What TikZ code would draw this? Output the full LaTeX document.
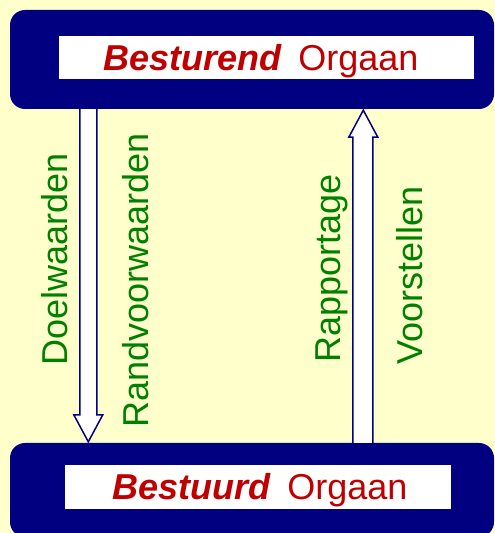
\documentclass[tikz,border=0pt]{standalone}
\usepackage{fontspec}
\setmainfont{Liberation Sans}
\usetikzlibrary{calc}
\definecolor{bg}{HTML}{FFFFCC}
\definecolor{navy}{HTML}{000080}
\definecolor{darkred}{HTML}{C00000}
\definecolor{labelgreen}{HTML}{008000}
\tikzset{
  organ/.style={fill=navy, draw=none, rounded corners=15pt, minimum width=484pt, inner sep=0pt},
  plate/.style={fill=white, draw=none, inner sep=0pt},
  title/.style={font=\fontsize{36}{43}\selectfont, text=darkred, anchor=base, inner sep=0pt},
  flow/.style={font=\fontsize{36}{43}\selectfont, text=labelgreen, rotate=90, anchor=base west, inner sep=0pt},
  arrowshape/.style={fill=white, draw=navy, line width=1.5pt, line join=miter},
}
\begin{document}
\begin{tikzpicture}[x=1pt,y=1pt]
\useasboundingbox (0,0) rectangle (495,533);
\clip (0,0) rectangle (495,533);
\fill[bg] (0,0) rectangle (495,533);
% organ boxes
\node[organ, minimum height=99pt] (besturend) at (252,473.5) {};
\node[organ, minimum height=94pt] (bestuurd) at (252,43) {};
% white plates
\node[plate, minimum width=415pt, minimum height=43pt] (plateA) at (266.5,475.5) {};
\node[plate, minimum width=386pt, minimum height=44pt] (plateB) at (258,46) {};
% titles
\node[title] (titleA) at (261,462) {\textbf{\textit{Besturend}}\hspace{0.45em}Orgaan};
\node[title] (titleB) at (260,33) {\textbf{\textit{Bestuurd}}\hspace{0.45em}Orgaan};
% connector coordinates
\coordinate (downtop) at ($(besturend.south west)+(78.5,0)$);
\coordinate (downtip) at ($(bestuurd.north west)+(78.5,1)$);
\coordinate (uptail) at ($(bestuurd.north west)+(353,0)$);
\coordinate (uptip) at ($(besturend.south west)+(353.5,-1)$);
% down arrow
\draw[arrowshape] ($(downtop)+(-8.5,0)$) -- ($(downtip)+(-8.5,27)$) -- ($(downtip)+(-14.5,27)$)
  -- (downtip) -- ($(downtip)+(14.5,27)$) -- ($(downtip)+(8.5,27)$) -- ($(downtop)+(8.5,0)$);
% up arrow
\draw[arrowshape] ($(uptail)+(-10,0)$) -- ($(uptip)+(-10.5,-27)$) -- ($(uptip)+(-14.5,-27)$)
  -- (uptip) -- ($(uptip)+(14.5,-27)$) -- ($(uptip)+(9.5,-27)$) -- ($(uptail)+(10,0)$);
% labels
\node[flow] (doel) at (67.5,167) {Doelwaarden};
\node[flow] (rand) at (148,105) {Randvoorwaarden};
\node[flow] (rapp) at (340,170) {Rapportage};
\node[flow] (voor) at (422,168) {Voorstellen};
\end{tikzpicture}
\end{document}
